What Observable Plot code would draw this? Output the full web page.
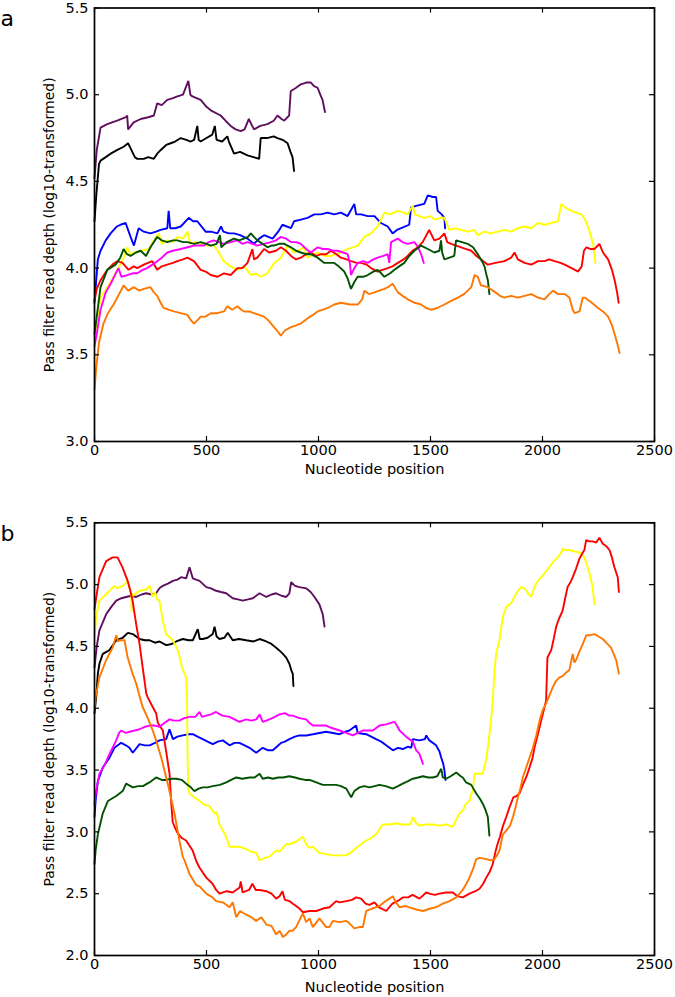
<!DOCTYPE html>
<html><head><meta charset="utf-8">
<script src="https://cdn.jsdelivr.net/npm/d3@7"></script>
<script src="https://cdn.jsdelivr.net/npm/@observablehq/plot@0.6"></script>
<style>
body{margin:0;background:#fff;}
#wrap{position:relative;width:675px;height:997px;font-family:"DejaVu Sans",sans-serif;background:#fff;}
.panel{position:absolute;left:0;}
.panel svg{display:block;}
.lab{position:absolute;left:0.5px;font-size:22px;line-height:22px;font-family:"DejaVu Sans",sans-serif;}
</style></head><body><div id="wrap"></div>
<script>
// ---------- tick labels ----------
const xTicks = [0, 500, 1000, 1500, 2000, 2500];
const yTicksA = [3.0, 3.5, 4.0, 4.5, 5.0, 5.5];
const yTicksB = [2.0, 2.5, 3.0, 3.5, 4.0, 4.5, 5.0, 5.5];
const xLabel = "Nucleotide position";
const yLabel = "Pass filter read depth (log10-transformed)";

// ---------- series (names and colours) ----------
const seriesNames = ["sample 1", "sample 2", "sample 3", "sample 4", "sample 5", "sample 6", "sample 7", "sample 8"];
const seriesColors = ["#5e0f5e", "#000000", "#0000ff", "#ffff00", "#ff0000", "#ff00ff", "#005200", "#ff7700"];

// ---------- panel a : [position, log10 depth] ----------
const aPurple = [[0,4.52],[10,4.68],[27,4.81],[57,4.83],[101,4.85],[140,4.87],[146,4.88],[150,4.80],[175,4.84],[206,4.86],[240,4.87],[265,4.88],[280,4.95],[300,4.94],[325,4.97],[350,4.98],[370,4.99],[395,5.00],[419,5.08],[428,5.00],[437,4.99],[474,4.97],[500,4.93],[519,4.91],[563,4.88],[585,4.85],[608,4.82],[630,4.80],[653,4.79],[670,4.80],[689,4.86],[700,4.83],[712,4.80],[740,4.82],[772,4.83],[800,4.85],[817,4.88],[835,4.86],[847,4.85],[869,4.88],[876,5.02],[900,5.04],[921,5.06],[945,5.07],[966,5.07],[980,5.05],[996,5.04],[1008,5.00],[1018,4.97],[1029,4.90]];
const aBlack = [[0,4.27],[8,4.42],[20,4.60],[27,4.62],[50,4.64],[72,4.66],[100,4.68],[130,4.70],[150,4.72],[165,4.68],[180,4.64],[191,4.63],[220,4.63],[240,4.64],[265,4.63],[280,4.66],[295,4.68],[320,4.71],[340,4.72],[360,4.73],[385,4.75],[410,4.74],[429,4.73],[445,4.74],[459,4.82],[465,4.74],[474,4.73],[500,4.75],[526,4.77],[537,4.82],[545,4.74],[570,4.73],[593,4.76],[600,4.73],[623,4.66],[650,4.67],[683,4.65],[710,4.64],[735,4.63],[742,4.75],[770,4.75],[800,4.76],[817,4.75],[840,4.74],[862,4.72],[875,4.67],[884,4.64],[891,4.56]];
const aBlue = [[0,3.80],[4,3.87],[15,4.05],[27,4.10],[50,4.16],[72,4.20],[100,4.24],[116,4.25],[139,4.26],[161,4.18],[176,4.13],[197,4.23],[220,4.21],[250,4.20],[275,4.21],[295,4.22],[325,4.23],[331,4.33],[338,4.23],[360,4.23],[385,4.24],[421,4.29],[440,4.27],[459,4.27],[496,4.21],[520,4.21],[549,4.20],[565,4.24],[575,4.21],[600,4.20],[623,4.20],[650,4.19],[683,4.17],[712,4.14],[735,4.17],[757,4.19],[795,4.17],[820,4.21],[839,4.25],[877,4.23],[891,4.27],[921,4.28],[951,4.29],[981,4.31],[1010,4.31],[1041,4.32],[1070,4.31],[1100,4.32],[1130,4.30],[1160,4.37],[1168,4.31],[1190,4.31],[1220,4.30],[1250,4.30],[1279,4.26],[1309,4.24],[1331,4.20],[1350,4.22],[1369,4.23],[1405,4.25],[1413,4.35],[1440,4.36],[1472,4.37],[1488,4.42],[1510,4.41],[1525,4.41],[1532,4.33],[1550,4.31],[1562,4.29],[1565,4.23]];
const aYellow = [[0,3.60],[10,3.68],[27,3.83],[57,3.89],[94,3.97],[130,4.06],[146,4.12],[161,4.08],[176,4.09],[210,4.10],[242,4.11],[265,4.16],[287,4.20],[300,4.14],[325,4.16],[350,4.15],[370,4.18],[395,4.17],[415,4.21],[429,4.14],[450,4.15],[474,4.14],[500,4.13],[533,4.13],[555,4.09],[577,4.04],[608,4.01],[638,3.99],[668,4.01],[698,3.96],[720,3.97],[742,3.95],[772,3.97],[802,4.03],[832,4.06],[862,4.13],[891,4.09],[936,4.12],[951,4.06],[996,4.09],[1026,4.07],[1055,4.07],[1100,4.09],[1130,4.11],[1175,4.13],[1205,4.18],[1234,4.20],[1264,4.24],[1294,4.32],[1320,4.31],[1354,4.33],[1380,4.32],[1398,4.31],[1421,4.36],[1430,4.31],[1472,4.29],[1500,4.30],[1517,4.28],[1545,4.29],[1562,4.29],[1584,4.22],[1610,4.23],[1637,4.22],[1665,4.21],[1695,4.22],[1711,4.19],[1740,4.21],[1770,4.20],[1801,4.21],[1830,4.22],[1860,4.21],[1890,4.23],[1920,4.24],[1950,4.23],[1980,4.26],[2010,4.25],[2040,4.26],[2069,4.27],[2084,4.37],[2100,4.35],[2129,4.33],[2150,4.32],[2173,4.31],[2190,4.28],[2203,4.24],[2215,4.19],[2226,4.14],[2236,4.03]];
const aRed = [[0,3.81],[10,3.88],[27,3.93],[57,3.99],[80,4.02],[101,4.04],[125,4.03],[152,3.99],[175,4.01],[191,4.00],[220,4.02],[258,4.04],[280,3.99],[300,4.01],[325,4.02],[350,4.03],[370,4.04],[395,4.05],[415,4.06],[444,4.04],[474,3.99],[496,3.98],[519,3.96],[549,3.95],[578,3.97],[608,3.96],[638,4.00],[660,4.00],[683,4.03],[705,4.11],[712,4.05],[727,4.06],[757,4.11],[780,4.09],[810,4.10],[832,4.12],[855,4.10],[877,4.07],[900,4.05],[921,4.06],[945,4.08],[966,4.09],[990,4.07],[1011,4.08],[1035,4.08],[1055,4.10],[1080,4.08],[1100,4.06],[1125,4.05],[1145,4.04],[1170,4.03],[1190,4.03],[1215,4.02],[1234,4.00],[1264,3.98],[1285,3.99],[1309,4.00],[1330,4.01],[1354,4.03],[1380,4.05],[1398,4.07],[1420,4.10],[1443,4.12],[1465,4.15],[1494,4.22],[1517,4.16],[1540,4.17],[1562,4.20],[1575,4.15],[1592,4.14],[1615,4.13],[1637,4.12],[1660,4.11],[1682,4.10],[1705,4.07],[1726,4.05],[1756,4.02],[1790,4.03],[1830,4.04],[1860,4.06],[1875,4.09],[1890,4.05],[1920,4.03],[1950,4.02],[1980,4.04],[2009,4.04],[2030,4.05],[2054,4.04],[2080,4.03],[2099,4.02],[2130,4.00],[2159,3.98],[2175,4.01],[2185,4.10],[2196,4.12],[2215,4.11],[2232,4.11],[2254,4.14],[2270,4.09],[2293,4.05],[2310,3.99],[2322,3.93],[2333,3.86],[2340,3.80]];
const aMagenta = [[0,3.55],[10,3.62],[27,3.76],[50,3.86],[72,3.91],[95,3.97],[107,4.00],[120,3.95],[146,3.96],[170,3.97],[191,3.97],[215,3.99],[235,4.00],[258,4.02],[280,4.04],[300,4.06],[325,4.09],[350,4.10],[385,4.11],[415,4.12],[444,4.13],[470,4.13],[489,4.13],[510,4.15],[533,4.16],[555,4.15],[578,4.14],[608,4.15],[638,4.16],[660,4.14],[683,4.15],[705,4.14],[727,4.13],[757,4.14],[787,4.15],[810,4.16],[832,4.18],[855,4.17],[877,4.15],[900,4.15],[921,4.14],[945,4.11],[966,4.09],[996,4.12],[1020,4.11],[1041,4.11],[1065,4.10],[1085,4.10],[1110,4.09],[1130,4.08],[1140,4.03],[1145,3.96],[1160,4.00],[1175,4.03],[1200,4.04],[1220,4.03],[1245,4.05],[1264,4.06],[1290,4.07],[1309,4.08],[1316,4.03],[1324,4.15],[1354,4.17],[1375,4.15],[1398,4.14],[1428,4.15],[1445,4.12],[1458,4.08],[1470,4.03]];
const aGreen = [[0,3.62],[8,3.70],[27,3.89],[57,3.99],[94,4.02],[115,4.06],[130,4.11],[145,4.08],[161,4.07],[185,4.09],[206,4.10],[230,4.07],[250,4.12],[280,4.18],[300,4.16],[325,4.15],[350,4.16],[370,4.16],[395,4.15],[415,4.15],[444,4.14],[474,4.15],[500,4.14],[519,4.13],[545,4.14],[560,4.19],[566,4.12],[590,4.15],[623,4.17],[645,4.16],[667,4.17],[685,4.18],[698,4.20],[712,4.18],[727,4.16],[750,4.14],[772,4.12],[790,4.13],[802,4.13],[825,4.14],[847,4.14],[877,4.12],[900,4.10],[921,4.09],[945,4.08],[966,4.08],[996,4.06],[1026,4.03],[1050,4.03],[1070,4.03],[1090,4.01],[1115,3.98],[1130,3.94],[1145,3.88],[1160,3.92],[1175,3.95],[1200,3.95],[1220,3.96],[1245,3.98],[1264,3.99],[1280,3.97],[1294,3.95],[1320,3.97],[1339,3.99],[1360,4.01],[1383,4.03],[1405,4.07],[1428,4.10],[1458,4.13],[1488,4.11],[1517,4.09],[1540,4.10],[1547,4.16],[1552,4.09],[1562,4.05],[1585,4.06],[1606,4.07],[1614,4.16],[1640,4.15],[1666,4.14],[1690,4.12],[1711,4.08],[1730,4.04],[1741,4.01],[1750,3.96],[1756,3.93],[1763,3.85]];
const aOrange = [[0,3.30],[8,3.43],[20,3.57],[40,3.68],[60,3.74],[85,3.79],[110,3.85],[130,3.90],[150,3.87],[176,3.89],[200,3.87],[220,3.88],[250,3.89],[265,3.86],[280,3.84],[295,3.80],[309,3.77],[330,3.76],[354,3.75],[385,3.74],[415,3.73],[430,3.70],[444,3.68],[460,3.70],[474,3.72],[495,3.72],[519,3.74],[548,3.74],[578,3.75],[593,3.78],[615,3.76],[638,3.78],[655,3.76],[668,3.75],[690,3.75],[712,3.74],[735,3.73],[757,3.72],[775,3.70],[795,3.67],[815,3.64],[832,3.61],[850,3.64],[877,3.66],[900,3.67],[921,3.68],[951,3.71],[975,3.73],[996,3.75],[1020,3.76],[1041,3.77],[1070,3.79],[1100,3.80],[1140,3.79],[1175,3.79],[1195,3.82],[1205,3.87],[1225,3.85],[1250,3.86],[1270,3.87],[1294,3.88],[1310,3.89],[1331,3.91],[1354,3.86],[1375,3.84],[1398,3.82],[1430,3.80],[1458,3.79],[1480,3.77],[1503,3.76],[1530,3.77],[1562,3.79],[1590,3.81],[1622,3.83],[1650,3.85],[1682,3.89],[1697,3.96],[1711,3.95],[1725,3.90],[1756,3.89],[1790,3.86],[1810,3.84],[1830,3.83],[1860,3.84],[1890,3.83],[1920,3.84],[1950,3.85],[1980,3.83],[2009,3.82],[2030,3.85],[2047,3.87],[2070,3.85],[2099,3.85],[2120,3.83],[2135,3.76],[2144,3.74],[2165,3.75],[2180,3.83],[2189,3.83],[2210,3.81],[2230,3.79],[2248,3.77],[2270,3.75],[2293,3.72],[2310,3.67],[2322,3.62],[2335,3.56],[2344,3.51]];

// ---------- panel b : [position, log10 depth] ----------
const bPurple = [[0,4.33],[10,4.50],[22,4.63],[52,4.76],[75,4.82],[97,4.87],[120,4.89],[141,4.90],[165,4.91],[186,4.90],[210,4.92],[231,4.93],[255,4.92],[275,4.93],[290,4.97],[305,4.99],[330,5.01],[350,5.03],[370,5.04],[387,5.06],[409,5.05],[424,5.14],[439,5.05],[469,5.03],[499,4.98],[520,4.97],[543,4.95],[565,4.94],[588,4.93],[617,4.89],[640,4.88],[662,4.87],[685,4.88],[707,4.89],[737,4.93],[767,4.90],[790,4.92],[811,4.93],[835,4.91],[856,4.90],[870,4.93],[878,5.02],[895,4.99],[915,4.98],[945,4.97],[965,4.94],[982,4.90],[1004,4.84],[1019,4.76],[1027,4.66]];
const bBlack = [[0,3.96],[8,4.10],[15,4.28],[22,4.36],[37,4.44],[67,4.47],[97,4.55],[126,4.57],[149,4.61],[171,4.60],[201,4.56],[225,4.55],[246,4.55],[270,4.53],[290,4.54],[320,4.51],[345,4.52],[365,4.54],[394,4.56],[420,4.55],[439,4.55],[461,4.64],[470,4.56],[483,4.56],[505,4.57],[528,4.60],[536,4.66],[545,4.58],[558,4.56],[580,4.57],[595,4.61],[617,4.55],[645,4.56],[677,4.55],[710,4.54],[737,4.56],[767,4.54],[790,4.52],[811,4.49],[830,4.46],[841,4.44],[856,4.41],[870,4.36],[880,4.30],[885,4.28],[888,4.18]];
const bBlue = [[0,3.12],[5,3.25],[15,3.41],[37,3.52],[67,3.60],[89,3.68],[119,3.72],[140,3.70],[156,3.68],[171,3.64],[201,3.71],[225,3.70],[246,3.70],[270,3.72],[290,3.74],[320,3.75],[335,3.83],[350,3.75],[370,3.77],[394,3.78],[420,3.79],[439,3.79],[460,3.77],[483,3.75],[505,3.73],[528,3.71],[550,3.73],[573,3.74],[603,3.70],[625,3.72],[647,3.72],[670,3.70],[692,3.68],[722,3.64],[751,3.68],[775,3.66],[796,3.66],[815,3.69],[833,3.72],[850,3.73],[870,3.75],[895,3.77],[915,3.78],[945,3.78],[975,3.79],[1004,3.80],[1034,3.81],[1064,3.80],[1094,3.79],[1120,3.81],[1138,3.82],[1168,3.86],[1175,3.80],[1213,3.79],[1235,3.77],[1257,3.75],[1280,3.73],[1302,3.70],[1332,3.66],[1355,3.68],[1376,3.67],[1400,3.69],[1414,3.68],[1421,3.75],[1450,3.74],[1475,3.75],[1481,3.78],[1495,3.74],[1525,3.70],[1540,3.65],[1548,3.60],[1557,3.55],[1562,3.50],[1567,3.42]];
const bYellow = [[0,4.58],[8,4.75],[22,4.87],[45,4.91],[67,4.95],[89,4.99],[100,4.97],[126,4.99],[149,5.03],[158,4.96],[164,4.93],[166,4.78],[168,4.93],[171,4.91],[201,4.95],[231,4.96],[246,4.99],[260,4.90],[270,4.94],[280,4.88],[290,4.87],[305,4.71],[320,4.60],[350,4.55],[372,4.47],[394,4.31],[409,4.25],[413,4.10],[415,3.70],[418,3.36],[424,3.31],[445,3.28],[469,3.25],[490,3.22],[513,3.21],[528,3.17],[536,3.15],[545,3.16],[558,3.06],[573,3.01],[588,2.96],[603,2.88],[625,2.88],[647,2.88],[677,2.86],[700,2.84],[722,2.83],[737,2.77],[760,2.79],[781,2.80],[811,2.85],[826,2.84],[856,2.90],[870,2.90],[900,2.92],[930,2.96],[945,2.90],[960,2.87],[975,2.88],[1004,2.83],[1034,2.82],[1064,2.81],[1094,2.81],[1124,2.81],[1150,2.84],[1168,2.87],[1190,2.90],[1213,2.93],[1235,2.95],[1257,2.98],[1287,3.06],[1317,3.06],[1347,3.07],[1370,3.06],[1391,3.06],[1410,3.06],[1421,3.12],[1436,3.07],[1451,3.05],[1480,3.06],[1510,3.06],[1540,3.05],[1570,3.06],[1600,3.04],[1615,3.10],[1629,3.15],[1644,3.17],[1659,3.23],[1674,3.25],[1682,3.31],[1689,3.33],[1696,3.47],[1704,3.47],[1733,3.47],[1748,3.58],[1760,3.74],[1770,3.90],[1778,4.06],[1786,4.30],[1793,4.44],[1808,4.55],[1823,4.74],[1838,4.82],[1860,4.85],[1875,4.90],[1890,4.95],[1905,4.98],[1920,4.97],[1935,4.93],[1949,4.90],[1964,4.98],[1979,5.03],[2000,5.07],[2016,5.11],[2030,5.14],[2046,5.18],[2068,5.22],[2080,5.25],[2091,5.29],[2105,5.28],[2120,5.28],[2140,5.27],[2165,5.26],[2180,5.24],[2187,5.22],[2200,5.15],[2210,5.09],[2224,4.98],[2232,4.84]];
const bRed = [[0,4.80],[8,4.90],[22,5.06],[52,5.19],[81,5.22],[103,5.22],[125,5.14],[148,5.03],[160,4.95],[170,4.87],[186,4.68],[201,4.52],[215,4.33],[231,4.12],[237,4.09],[260,4.01],[275,3.96],[283,3.88],[305,3.82],[320,3.65],[335,3.47],[342,3.25],[349,3.08],[360,3.03],[371,2.99],[390,2.95],[409,2.93],[438,2.85],[455,2.76],[469,2.71],[499,2.63],[527,2.58],[543,2.53],[558,2.50],[590,2.52],[617,2.51],[648,2.55],[653,2.60],[661,2.51],[690,2.53],[705,2.58],[720,2.53],[737,2.53],[767,2.52],[790,2.50],[811,2.46],[826,2.48],[839,2.52],[850,2.45],[870,2.44],[884,2.42],[900,2.40],[915,2.38],[930,2.35],[960,2.36],[990,2.36],[1020,2.38],[1049,2.39],[1079,2.44],[1094,2.43],[1124,2.44],[1150,2.45],[1168,2.47],[1190,2.46],[1210,2.42],[1228,2.41],[1250,2.43],[1270,2.39],[1302,2.36],[1330,2.42],[1362,2.45],[1376,2.47],[1400,2.47],[1420,2.49],[1451,2.46],[1481,2.51],[1495,2.50],[1520,2.49],[1540,2.50],[1570,2.51],[1600,2.51],[1620,2.48],[1644,2.47],[1674,2.50],[1700,2.52],[1719,2.54],[1735,2.58],[1749,2.63],[1765,2.68],[1778,2.74],[1790,2.84],[1799,2.90],[1810,2.96],[1822,3.04],[1838,3.12],[1853,3.20],[1870,3.28],[1883,3.29],[1897,3.31],[1912,3.38],[1927,3.44],[1942,3.52],[1956,3.60],[1964,3.68],[1978,3.78],[1994,3.90],[2005,3.98],[2016,4.06],[2022,4.41],[2039,4.47],[2050,4.56],[2061,4.66],[2075,4.73],[2090,4.79],[2100,4.88],[2112,4.98],[2125,5.02],[2135,5.06],[2150,5.13],[2165,5.21],[2180,5.26],[2187,5.28],[2195,5.36],[2210,5.35],[2224,5.35],[2240,5.34],[2254,5.38],[2269,5.33],[2285,5.31],[2299,5.28],[2310,5.22],[2321,5.14],[2336,5.06],[2341,4.94]];
const bMagenta = [[0,3.22],[7,3.33],[22,3.47],[45,3.54],[67,3.63],[97,3.74],[110,3.80],[119,3.82],[140,3.80],[156,3.81],[180,3.82],[201,3.83],[225,3.85],[246,3.86],[270,3.86],[290,3.85],[312,3.88],[335,3.91],[355,3.90],[379,3.90],[400,3.92],[424,3.93],[450,3.93],[469,3.97],[480,3.93],[499,3.94],[520,3.95],[543,3.97],[570,3.94],[603,3.93],[625,3.91],[647,3.89],[677,3.91],[700,3.90],[722,3.91],[737,3.95],[751,3.89],[781,3.91],[805,3.93],[826,3.95],[850,3.96],[870,3.94],[885,3.94],[915,3.92],[945,3.91],[960,3.88],[975,3.86],[1004,3.86],[1034,3.86],[1060,3.84],[1094,3.82],[1124,3.80],[1153,3.78],[1175,3.80],[1198,3.82],[1220,3.82],[1243,3.82],[1272,3.86],[1302,3.87],[1320,3.88],[1339,3.89],[1350,3.86],[1362,3.82],[1391,3.77],[1421,3.73],[1436,3.66],[1451,3.63],[1466,3.55]];
const bGreen = [[0,2.74],[5,2.85],[15,2.98],[37,3.15],[60,3.25],[97,3.29],[126,3.33],[141,3.39],[171,3.36],[195,3.37],[216,3.37],[245,3.40],[275,3.44],[300,3.42],[320,3.42],[345,3.43],[365,3.43],[390,3.42],[409,3.39],[430,3.36],[446,3.33],[465,3.35],[483,3.36],[505,3.36],[528,3.37],[560,3.38],[588,3.40],[610,3.42],[633,3.44],[660,3.43],[692,3.44],[715,3.44],[737,3.47],[751,3.43],[775,3.44],[796,3.43],[820,3.44],[841,3.44],[870,3.45],[895,3.44],[915,3.43],[940,3.42],[960,3.42],[990,3.40],[1019,3.38],[1050,3.38],[1079,3.38],[1100,3.37],[1124,3.35],[1146,3.28],[1160,3.33],[1183,3.36],[1205,3.37],[1228,3.36],[1250,3.37],[1272,3.38],[1300,3.37],[1332,3.35],[1355,3.37],[1376,3.39],[1400,3.41],[1421,3.43],[1445,3.44],[1466,3.45],[1490,3.44],[1510,3.44],[1530,3.45],[1548,3.51],[1555,3.44],[1570,3.43],[1590,3.45],[1615,3.48],[1635,3.45],[1644,3.44],[1659,3.40],[1682,3.38],[1704,3.31],[1720,3.27],[1733,3.23],[1745,3.18],[1756,3.12],[1763,2.97]];
const bOrange = [[0,4.00],[5,4.09],[22,4.25],[52,4.39],[81,4.49],[97,4.59],[105,4.54],[112,4.55],[134,4.55],[148,4.41],[170,4.28],[186,4.20],[201,4.10],[215,4.01],[238,3.92],[260,3.82],[275,3.74],[298,3.60],[327,3.39],[357,3.15],[379,2.93],[394,2.80],[402,2.77],[424,2.66],[454,2.57],[469,2.56],[499,2.50],[527,2.47],[543,2.44],[573,2.43],[603,2.39],[617,2.43],[633,2.31],[650,2.36],[677,2.33],[700,2.31],[722,2.28],[745,2.31],[767,2.25],[790,2.24],[811,2.17],[826,2.20],[841,2.15],[856,2.17],[870,2.20],[884,2.20],[900,2.23],[930,2.34],[945,2.27],[960,2.30],[975,2.23],[1004,2.30],[1034,2.23],[1049,2.23],[1064,2.28],[1094,2.27],[1124,2.28],[1138,2.26],[1160,2.22],[1183,2.23],[1198,2.23],[1213,2.36],[1240,2.38],[1272,2.40],[1300,2.44],[1332,2.48],[1345,2.43],[1362,2.39],[1390,2.40],[1406,2.39],[1440,2.37],[1466,2.36],[1500,2.38],[1525,2.39],[1555,2.42],[1585,2.44],[1615,2.47],[1644,2.53],[1660,2.58],[1674,2.63],[1690,2.70],[1704,2.78],[1720,2.79],[1749,2.78],[1770,2.77],[1786,2.78],[1800,2.82],[1808,2.85],[1823,2.98],[1838,3.01],[1855,3.05],[1868,3.12],[1880,3.20],[1890,3.28],[1900,3.34],[1912,3.44],[1927,3.52],[1942,3.60],[1957,3.68],[1972,3.78],[1987,3.90],[2000,3.98],[2016,4.04],[2030,4.10],[2046,4.17],[2060,4.22],[2076,4.25],[2090,4.26],[2106,4.29],[2120,4.31],[2135,4.44],[2142,4.37],[2150,4.39],[2165,4.46],[2180,4.52],[2195,4.59],[2210,4.59],[2232,4.60],[2250,4.58],[2269,4.56],[2290,4.52],[2306,4.49],[2320,4.43],[2329,4.39],[2341,4.28]];

const panelA = [aPurple, aBlack, aBlue, aYellow, aRed, aMagenta, aGreen, aOrange];
const panelB = [bPurple, bBlack, bBlue, bYellow, bRed, bMagenta, bGreen, bOrange];

function makePanel(series, yDomain, yTicks, height, mt, mb, labelDy) {
  const rows = [];
  series.forEach((pts, i) => pts.forEach(([x, y]) => rows.push({s: seriesNames[i], x, y})));
  const W = 675, ML = 94, MR = 21;
  const innerW = W - ML - MR, innerH = height - mt - mb, tl = 5;
  return Plot.plot({
    width: W, height, marginLeft: ML, marginRight: MR, marginTop: mt, marginBottom: mb,
    style: {fontFamily: "'DejaVu Sans', sans-serif", fontSize: "14.5px", color: "black", background: "white", overflow: "visible"},
    x: {domain: [0, 2500]},
    y: {domain: yDomain},
    color: {type: "ordinal", domain: seriesNames, range: seriesColors},
    marks: [
      Plot.line(rows, {x: "x", y: "y", z: "s", stroke: "s", strokeWidth: 1.9, strokeLinejoin: "miter"}),
      Plot.frame({stroke: "black", strokeWidth: 1.7}),
      Plot.tickX(xTicks, {x: d => d, insetTop: innerH - tl, stroke: "black", strokeWidth: 1.2}),
      Plot.tickX(xTicks, {x: d => d, insetBottom: innerH - tl, stroke: "black", strokeWidth: 1.2}),
      Plot.tickY(yTicks, {y: d => d, insetRight: innerW - tl, stroke: "black", strokeWidth: 1.2}),
      Plot.tickY(yTicks, {y: d => d, insetLeft: innerW - tl, stroke: "black", strokeWidth: 1.2}),
      Plot.axisX({ticks: xTicks, tickSize: 0, tickPadding: 3, label: null, tickFormat: d => String(d)}),
      Plot.axisY({ticks: yTicks, tickSize: 0, tickPadding: 6, label: null, tickFormat: d => d.toFixed(1)}),
      Plot.text([xLabel], {frameAnchor: "bottom", dy: labelDy, fontSize: 14.5, fill: "black"}),
      Plot.text([yLabel], {frameAnchor: "left", textAnchor: "middle", lineAnchor: "middle", rotate: -90, dx: -44.5, fontSize: 14, fill: "black"})
    ]
  });
}

const wrap = document.getElementById("wrap");
function place(node, top) {
  const d = document.createElement("div");
  d.className = "panel"; d.style.top = top + "px";
  d.appendChild(node); wrap.appendChild(d);
}
place(makePanel(panelA, [3.0, 5.5], yTicksA, 490, 7.5, 49, 32.5), 0);
place(makePanel(panelB, [2.0, 5.5], yTicksB, 500, 25.3, 42, 36), 497);

function letter(t, top) {
  const d = document.createElement("div");
  d.className = "lab"; d.style.top = top + "px"; d.textContent = t;
  wrap.appendChild(d);
}
letter("a", 8);
letter("b", 523);
</script></body></html>
